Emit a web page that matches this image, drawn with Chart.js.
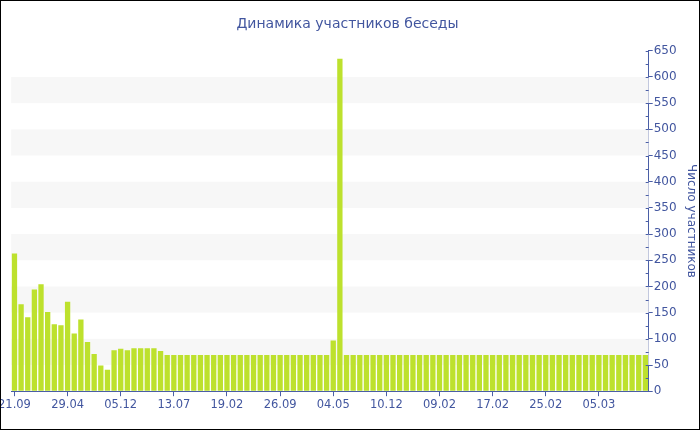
<!DOCTYPE html>
<html>
<head>
<meta charset="utf-8">
<script src="https://cdn.jsdelivr.net/npm/chart.js@4/dist/chart.umd.min.js"></script>
<style>
  body { margin: 0; background: #fff; }
  #wrap { position: relative; width: 700px; height: 430px; overflow: hidden; }
  #wrap canvas { position: absolute; left: -4px; top: 0; }
  #frame { position: absolute; left: 0; top: 0; width: 698px; height: 428px; border: 1px solid #000; pointer-events: none; }
</style>
</head>
<body>
<div id="wrap">
  <canvas id="chart" width="704" height="430" style="width:704px;height:430px"></canvas>
  <div id="frame"></div>
</div>
<script>
// tick labels shown under every 8th bar
const tickLabels = ["21.09", "29.04", "05.12", "13.07", "19.02", "26.09",
                    "04.05", "10.12", "09.02", "17.02", "25.02", "05.03"];

// participants per period
const members = [
  263, 166, 141, 194, 204, 151, 128, 126, 171, 110, 137, 94,
  71, 49, 41, 78, 81, 78, 82, 82, 82, 82, 77, 69,
  69, 69, 69, 69, 69, 69, 69, 69, 69, 69, 69, 69,
  69, 69, 69, 69, 69, 69, 69, 69, 69, 69, 69, 69,
  97, 635, 69, 69, 69, 69, 69, 69, 69, 69, 69, 69,
  69, 69, 69, 69, 69, 69, 69, 69, 69, 69, 69, 69,
  69, 69, 69, 69, 69, 69, 69, 69, 69, 69, 69, 69,
  69, 69, 69, 69, 69, 69, 69, 69, 69, 69, 69, 69,
];

const labelEvery = 8;
const categories = members.map((v, i) => (i % labelEvery === 0 ? tickLabels[i / labelEvery] : ""));

const axisColor = "#4a5ea6";
const textColor = "#42569f";
const barColor = "#bde12d";
const font = "'DejaVu Sans', Verdana, sans-serif";

// light grey horizontal bands + small inner ticks on y axis
const bandsPlugin = {
  id: "bands",
  beforeDatasetsDraw(chart) {
    const { ctx, chartArea, scales } = chart;
    const y = scales.y;
    ctx.save();
    ctx.fillStyle = "#f7f7f7";
    for (let v = 50; v < 650; v += 100) {
      const top = y.getPixelForValue(v + 50);
      const bottom = y.getPixelForValue(v);
      ctx.fillRect(chartArea.left, top, chartArea.right - chartArea.left, bottom - top);
    }
    ctx.restore();
  },
  afterDraw(chart) {
    const { ctx, chartArea, scales } = chart;
    const y = scales.y;
    ctx.save();
    ctx.strokeStyle = axisColor;
    ctx.lineWidth = 1;
    ctx.beginPath();
    for (let v = 0; v <= 650; v += 25) {
      const py = Math.round(y.getPixelForValue(v)) + 0.5;
      ctx.moveTo(chartArea.right - 3, py);
      ctx.lineTo(chartArea.right, py);
    }
    ctx.stroke();
    ctx.restore();
  },
};

new Chart(document.getElementById("chart"), {
  type: "bar",
  data: {
    labels: categories,
    datasets: [
      {
        label: "Число участников",
        data: members,
        backgroundColor: barColor,
        borderWidth: 0,
        barPercentage: 0.8,
        categoryPercentage: 1,
      },
    ],
  },
  options: {
    responsive: false,
    animation: false,
    layout: {
      padding: { left: 0, right: 1, bottom: 16 },
    },
    scales: {
      x: {
        grid: {
          offset: false,
          drawOnChartArea: false,
          tickLength: 5,
          color: (c) => (c.index % labelEvery === 0 ? axisColor : "rgba(0,0,0,0)"),
        },
        border: { color: axisColor, width: 1 },
        ticks: {
          autoSkip: false,
          maxRotation: 0,
          color: textColor,
          font: { family: font, size: 11.5 },
          padding: 2,
        },
      },
      y: {
        position: "right",
        min: 0,
        max: 650,
        grid: {
          drawOnChartArea: false,
          tickLength: 4,
          color: axisColor,
        },
        border: { color: axisColor, width: 1 },
        ticks: {
          stepSize: 50,
          color: textColor,
          font: { family: font, size: 12 },
          padding: 1,
        },
        title: {
          display: true,
          text: "Число участников",
          color: textColor,
          font: { family: font, size: 12 },
          padding: { top: 1, bottom: 6 },
        },
      },
    },
    plugins: {
      legend: { display: false },
      tooltip: { enabled: false },
      title: {
        display: true,
        text: "Динамика участников беседы",
        color: textColor,
        font: { family: font, size: 14, weight: "normal" },
        padding: { top: 16, bottom: 18 },
      },
    },
  },
  plugins: [bandsPlugin],
});
</script>
</body>
</html>
